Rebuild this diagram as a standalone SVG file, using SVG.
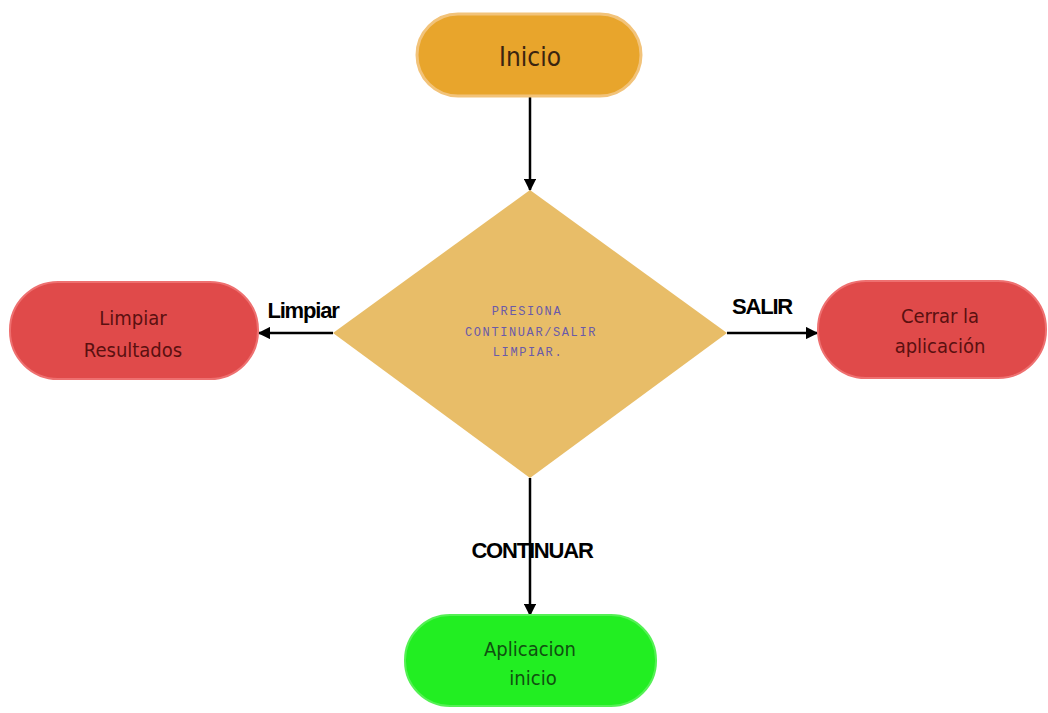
<svg xmlns="http://www.w3.org/2000/svg" width="1048" height="713" viewBox="0 0 1048 713">
<defs>
<marker id="ah" viewBox="0 0 10 10" refX="9" refY="5" markerWidth="5" markerHeight="5" orient="auto-start-reverse" markerUnits="strokeWidth">
<path d="M0,0 L10,5 L0,10 z" fill="#000"/>
</marker>
<style>
.lbl{font-family:"DejaVu Sans Condensed","DejaVu Sans",sans-serif;font-size:20px;text-anchor:middle;}
.big{font-size:26px;}
.elbl{font-family:"Liberation Sans",Arial,sans-serif;font-size:22px;font-weight:bold;text-anchor:middle;fill:#000;letter-spacing:-1.2px;}
.mono{font-family:"Liberation Mono","Courier New",monospace;font-size:12px;fill:#6a5aa8;text-anchor:middle;letter-spacing:1.6px;}
.edge{stroke:#000;stroke-width:2.5;fill:none;marker-end:url(#ah);}
</style>
</defs>
<rect width="1048" height="713" fill="#fff"/>
<g id="connectors">
<line class="edge" x1="530" y1="96" x2="530" y2="190"/>
<line class="edge" x1="333" y1="333" x2="259" y2="333"/>
<line class="edge" x1="727" y1="333" x2="817" y2="333"/>
<line class="edge" x1="530" y1="478" x2="530" y2="615"/>
<text class="elbl" x="303" y="318">Limpiar</text>
<text class="elbl" x="762" y="314">SALIR</text>
<text class="elbl" x="532" y="558">CONTINUAR</text>
</g>
<g id="inicio">
<rect x="417" y="14" width="224" height="82" rx="41" fill="#e8a52c" stroke="#f2c37a" stroke-width="3"/>
<text class="lbl big" x="530" y="66" fill="#3a2410">Inicio</text>
</g>
<g id="decision">
<polygon points="530,190 727,333 530,478 333,333" fill="#e8bd68"/>
<text class="mono" x="527" y="315">PRESIONA</text>
<text class="mono" x="531" y="336">CONTINUAR/SALIR</text>
<text class="mono" x="528" y="356">LIMPIAR.</text>
</g>
<g id="limpiar">
<rect x="10" y="282" width="248" height="97" rx="48" fill="#e04a4a" stroke="#ee7070" stroke-width="2"/>
<text class="lbl" x="133" y="325" fill="#5a1010">Limpiar</text>
<text class="lbl" x="133" y="357" fill="#5a1010">Resultados</text>
</g>
<g id="cerrar">
<rect x="818" y="281" width="228" height="97" rx="48" fill="#e04a4a" stroke="#ee7070" stroke-width="2"/>
<text class="lbl" x="940" y="323" fill="#5a1010">Cerrar la</text>
<text class="lbl" x="940" y="353" fill="#5a1010">aplicación</text>
</g>
<g id="aplicacion">
<rect x="405" y="615" width="251" height="91" rx="45" fill="#22ee22" stroke="#55f055" stroke-width="2"/>
<text class="lbl" x="530" y="656" fill="#105010">Aplicacion</text>
<text class="lbl" x="533" y="685" fill="#105010">inicio</text>
</g>
</svg>
